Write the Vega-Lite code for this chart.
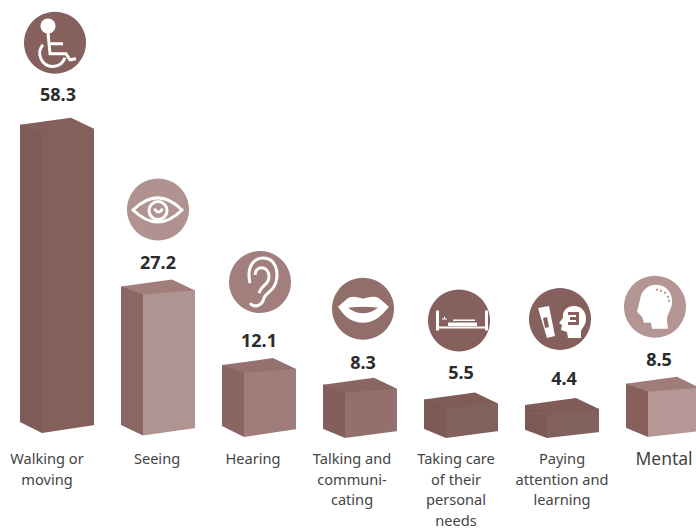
{"$schema":"https://vega.github.io/schema/vega-lite/v6.json","width":696,"height":528,"padding":0,"autosize":"none","background":"white","config":{"view":{"stroke":null}},
"data":{"values":[
{"category":"Walking or moving","label":"Walking or\nmoving","value":58.3},
{"category":"Seeing","label":"Seeing","value":27.2},
{"category":"Hearing","label":"Hearing","value":12.1},
{"category":"Talking and communicating","label":"Talking and\ncommuni-\ncating","value":8.3},
{"category":"Taking care of their personal needs","label":"Taking care\nof their\npersonal\nneeds","value":5.5},
{"category":"Paying attention and learning","label":"Paying\nattention and\nlearning","value":4.4},
{"category":"Mental","label":"Mental","value":8.5}]},
"encoding":{"x":{"field":"category","type":"nominal","sort":null,"axis":null,"scale":{"domain":["Walking or moving","Seeing","Hearing","Talking and communicating","Taking care of their personal needs","Paying attention and learning","Mental"],"range":[6.5,713.5],"paddingInner":0,"paddingOuter":0}},
"y":{"field":"value","type":"quantitative","axis":null,"scale":{"domain":[0,84.23],"range":[438,0],"nice":false,"clamp":false}}},
"layer":[
{"mark":{"type":"bar","width":22.5,"xOffset":-25.75,"yOffset":-2},"encoding":{"y2":{"datum":-0.6},"color":{"field":"category","type":"nominal","legend":null,"sort":null,"scale":{"range":["#7f5a56","#8c6662","#8a6561","#835e5a","#7d5955","#7d5955","#875f5b"]}}}},
{"mark":{"type":"bar","width":52,"xOffset":11,"yOffset":-2},"encoding":{"y2":{"datum":-0.6},"color":{"field":"category","type":"nominal","legend":null,"sort":null,"scale":{"range":["#84605c","#b09491","#a07d7a","#94706d","#82605c","#82605c","#b59895"]}}}},
{"mark":{"type":"point","filled":true,"opacity":1,"size":4,"shape":"M-37,-10 L-34,-10 L-15,-4 L-15,-1.5 L-37,-1.5Z"},"encoding":{"color":{"field":"category","type":"nominal","legend":null,"sort":null,"scale":{"range":["#7f5a56","#8c6662","#8a6561","#835e5a","#7d5955","#7d5955","#875f5b"]}}}},
{"mark":{"type":"point","filled":true,"opacity":1,"size":4,"shape":"M-15,-4 L33,-7 L37,-6 L37,-1.5 L-15,-1.5Z"},"encoding":{"color":{"field":"category","type":"nominal","legend":null,"sort":null,"scale":{"range":["#84605c","#b09491","#a07d7a","#94706d","#82605c","#82605c","#b59895"]}}}},
{"mark":{"type":"point","filled":true,"opacity":1,"size":4,"shape":"M-37,-10 L14,-17 L37,-6 L-15,-2Z"},"encoding":{"color":{"field":"category","type":"nominal","legend":null,"sort":null,"scale":{"range":["#855f5c","#a17e7b","#95726f","#8a6663","#7f5c58","#7f5c58","#a07d7a"]}}}},
{"mark":{"type":"point","filled":true,"opacity":1,"size":4,"color":"white"},"encoding":{"y":{"datum":0},"shape":{"field":"category","type":"nominal","legend":null,"sort":null,"scale":{"range":["M-39,-17 L-15,-5 L38,-13 L38,4 L-39,4Z","M-39,-14 L-15,-2.5 L38,-10 L38,4 L-39,4Z","M-39,-13 L-15,-1 L38,-9 L38,4 L-39,4Z","M-39,-10 L-15,0 L38,-7 L38,4 L-39,4Z","M-39,-10 L-15,0 L38,-7 L38,4 L-39,4Z","M-39,-9 L-15,0 L38,-6 L38,4 L-39,4Z","M-39,-11 L-15,-1 L38,-7 L38,4 L-39,4Z"]}}}},
{"mark":{"type":"point","filled":true,"opacity":1,"size":4},"encoding":{"shape":{"field":"category","type":"nominal","legend":null,"sort":null,"scale":{"range":["M-33,-92 a31,31 0 1,0 62,0 a31,31 0 1,0 -62,0Z","M-31,-87 a31,31 0 1,0 62,0 a31,31 0 1,0 -62,0Z","M-30,-93 a31,31 0 1,0 62,0 a31,31 0 1,0 -62,0Z","M-28,-86 a31,31 0 1,0 62,0 a31,31 0 1,0 -62,0Z","M-33,-89 a31,31 0 1,0 62,0 a31,31 0 1,0 -62,0Z","M-33,-96 a31,31 0 1,0 62,0 a31,31 0 1,0 -62,0Z","M-39,-87 a31,31 0 1,0 62,0 a31,31 0 1,0 -62,0Z"]}},"color":{"field":"category","type":"nominal","legend":null,"sort":null,"scale":{"range":["#85605d","#b09390","#a27f7c","#926e6b","#85605d","#85605d","#b39693"]}}}},
{"transform":[{"filter":"indexof(['Walking or moving','Talking and communicating','Taking care of their personal needs','Paying attention and learning','Mental'],datum.category)>=0"}],"mark":{"type":"point","filled":true,"opacity":1,"size":4,"color":"white"},"encoding":{"shape":{"field":"category","type":"nominal","legend":null,"sort":null,"scale":{"domain":["Walking or moving","Talking and communicating","Taking care of their personal needs","Paying attention and learning","Mental"],"range":[
"M-16.5,-108.8 a7.5,7.5 0 1,0 15,0 a7.5,7.5 0 1,0 -15,0Z",
"M-22,-88 C-16,-93 -12,-98 -7,-98 C-3,-98 0,-97 3,-96 C6,-97 9,-98 14,-98 C19,-98 23,-93 29,-88 C20,-77 13,-72 3,-72 C-7,-72 -15,-77 -22,-88Z M-12,-87 Q3,-76 18,-87 Q3,-89 -12,-87Z",
"M-25,-99 L-22,-99 L-22,-83 L24,-83 L24,-99 L27,-99 L27,-79 L24,-79 L24,-81 L-22,-81 L-22,-79 L-25,-79Z M-13,-87 L16,-87 L16,-83.5 L-13,-83.5Z M-8,-90 L14,-90 L14,-88.5 L-8,-88.5Z M-19,-91 L-17,-91 L-17,-93 L-16,-93 L-16,-91 L-14,-91 L-14,-90 L-19,-90Z",
"M-24,-107 L-13,-109 L-7,-79 L-15,-77Z M-19,-97 L-17,-87 L-13,-88 L-15,-98Z M1,-97 C0,-105 6,-109 12,-109 C20,-109 24,-103 24,-96 C24,-90 20,-87 19,-84 L19,-77 L6,-77 L5,-83 L-1,-85 L0,-90 L-3,-92Z M6,-103 L6,-100 L14,-100 L14,-98 L8,-98 L8,-95 L14,-95 L14,-93 L6,-93 L6,-90 L17,-90 L17,-103Z",
"M-23,-94 C-22,-103 -15,-109 -7,-109 C4,-109 10,-100 9,-90 C8,-83 4,-80 4,-74 L5,-65 L-11,-65 L-12,-71 L-19,-71 L-21,-77 L-26,-82Z M-7,-105 L-7,-103 L-5,-103 L-5,-105Z M-3,-104 L-3,-102 L-1,-102 L-1,-104Z M1,-102 L1,-100 L3,-100 L3,-102Z M4,-98 L4,-96 L6,-96 L6,-98Z M5,-94 L5,-92 L7,-92 L7,-94Z"]}}}},
{"transform":[{"filter":"indexof(['Walking or moving','Seeing','Hearing'],datum.category)>=0"}],"mark":{"type":"point","filled":false,"opacity":1,"size":4,"color":"white","strokeWidth":3},"encoding":{"shape":{"field":"category","type":"nominal","legend":null,"sort":null,"scale":{"domain":["Walking or moving","Seeing","Hearing"],"range":[
"M-9,-102 L-7,-81 L9,-81 L13,-75 L19,-76 M-7,-91 L6,-91 M-14,-90 A13,13 0 1,0 8,-77",
"M-25,-86.6 Q0,-110.6 24,-86.6 Q0,-62.6 -25,-86.6Z M-9,-86 a9,9 0 1,1 18,0 a9,9 0 1,1 -18,0 M-3,-88 a3.5,3.5 0 1,0 7,0",
"M-9,-92 C-13,-110 -4,-117 4,-117 C16,-117 20,-105 17,-93 C14,-83 7,-83 5,-77 C3,-69 -5,-67 -9,-72 M-4,-100 C-4,-110 10,-110 10,-98 C10,-90 2,-90 0,-82"]}}}},
{"transform":[{"filter":"datum.category==='Walking or moving'"}],"mark":{"type":"text","font":"Noto Sans","fontSize":18,"fontWeight":"bold","fill":"#2b2b2b","dx":1,"dy":-39},"encoding":{"text":{"field":"value","type":"quantitative","format":".1f"}}},
{"transform":[{"filter":"datum.category==='Seeing'"}],"mark":{"type":"text","font":"Noto Sans","fontSize":18,"fontWeight":"bold","fill":"#2b2b2b","dx":0,"dy":-33},"encoding":{"text":{"field":"value","type":"quantitative","format":".1f"}}},
{"transform":[{"filter":"datum.category==='Hearing'"}],"mark":{"type":"text","font":"Noto Sans","fontSize":18,"fontWeight":"bold","fill":"#2b2b2b","dx":0,"dy":-33},"encoding":{"text":{"field":"value","type":"quantitative","format":".1f"}}},
{"transform":[{"filter":"datum.category==='Talking and communicating'"}],"mark":{"type":"text","font":"Noto Sans","fontSize":18,"fontWeight":"bold","fill":"#2b2b2b","dx":3,"dy":-31},"encoding":{"text":{"field":"value","type":"quantitative","format":".1f"}}},
{"transform":[{"filter":"datum.category==='Taking care of their personal needs'"}],"mark":{"type":"text","font":"Noto Sans","fontSize":18,"fontWeight":"bold","fill":"#2b2b2b","dx":0,"dy":-35},"encoding":{"text":{"field":"value","type":"quantitative","format":".1f"}}},
{"transform":[{"filter":"datum.category==='Paying attention and learning'"}],"mark":{"type":"text","font":"Noto Sans","fontSize":18,"fontWeight":"bold","fill":"#2b2b2b","dx":2,"dy":-35},"encoding":{"text":{"field":"value","type":"quantitative","format":".1f"}}},
{"transform":[{"filter":"datum.category==='Mental'"}],"mark":{"type":"text","font":"Noto Sans","fontSize":18,"fontWeight":"bold","fill":"#2b2b2b","dx":-4,"dy":-33},"encoding":{"text":{"field":"value","type":"quantitative","format":".1f"}}},
{"transform":[{"filter":"datum.category==='Walking or moving'"}],"mark":{"type":"text","font":"Noto Sans","fontSize":14.6,"fill":"#444444","baseline":"top","lineBreak":"\n","lineHeight":20.5,"dx":-10,"dy":14},"encoding":{"y":{"datum":0},"text":{"field":"label"}}},
{"transform":[{"filter":"datum.category==='Seeing'"}],"mark":{"type":"text","font":"Noto Sans","fontSize":14.6,"fill":"#444444","baseline":"top","lineBreak":"\n","lineHeight":20.5,"dx":-1,"dy":14},"encoding":{"y":{"datum":0},"text":{"field":"label"}}},
{"transform":[{"filter":"datum.category==='Hearing'"}],"mark":{"type":"text","font":"Noto Sans","fontSize":14.6,"fill":"#444444","baseline":"top","lineBreak":"\n","lineHeight":20.5,"dx":-6,"dy":14},"encoding":{"y":{"datum":0},"text":{"field":"label"}}},
{"transform":[{"filter":"datum.category==='Talking and communicating'"}],"mark":{"type":"text","font":"Noto Sans","fontSize":14.6,"fill":"#444444","baseline":"top","lineBreak":"\n","lineHeight":20.5,"dx":-8,"dy":14},"encoding":{"y":{"datum":0},"text":{"field":"label"}}},
{"transform":[{"filter":"datum.category==='Taking care of their personal needs'"}],"mark":{"type":"text","font":"Noto Sans","fontSize":14.6,"fill":"#444444","baseline":"top","lineBreak":"\n","lineHeight":20.5,"dx":-5,"dy":14},"encoding":{"y":{"datum":0},"text":{"field":"label"}}},
{"transform":[{"filter":"datum.category==='Paying attention and learning'"}],"mark":{"type":"text","font":"Noto Sans","fontSize":14.6,"fill":"#444444","baseline":"top","lineBreak":"\n","lineHeight":20.5,"dx":0,"dy":14},"encoding":{"y":{"datum":0},"text":{"field":"label"}}},
{"transform":[{"filter":"datum.category==='Mental'"}],"mark":{"type":"text","font":"Noto Sans","fontSize":17.5,"fill":"#444444","baseline":"top","lineBreak":"\n","lineHeight":21,"dx":1,"dy":13},"encoding":{"y":{"datum":0},"text":{"field":"label"}}}
],
"resolve":{"scale":{"color":"independent","shape":"independent"}}}
